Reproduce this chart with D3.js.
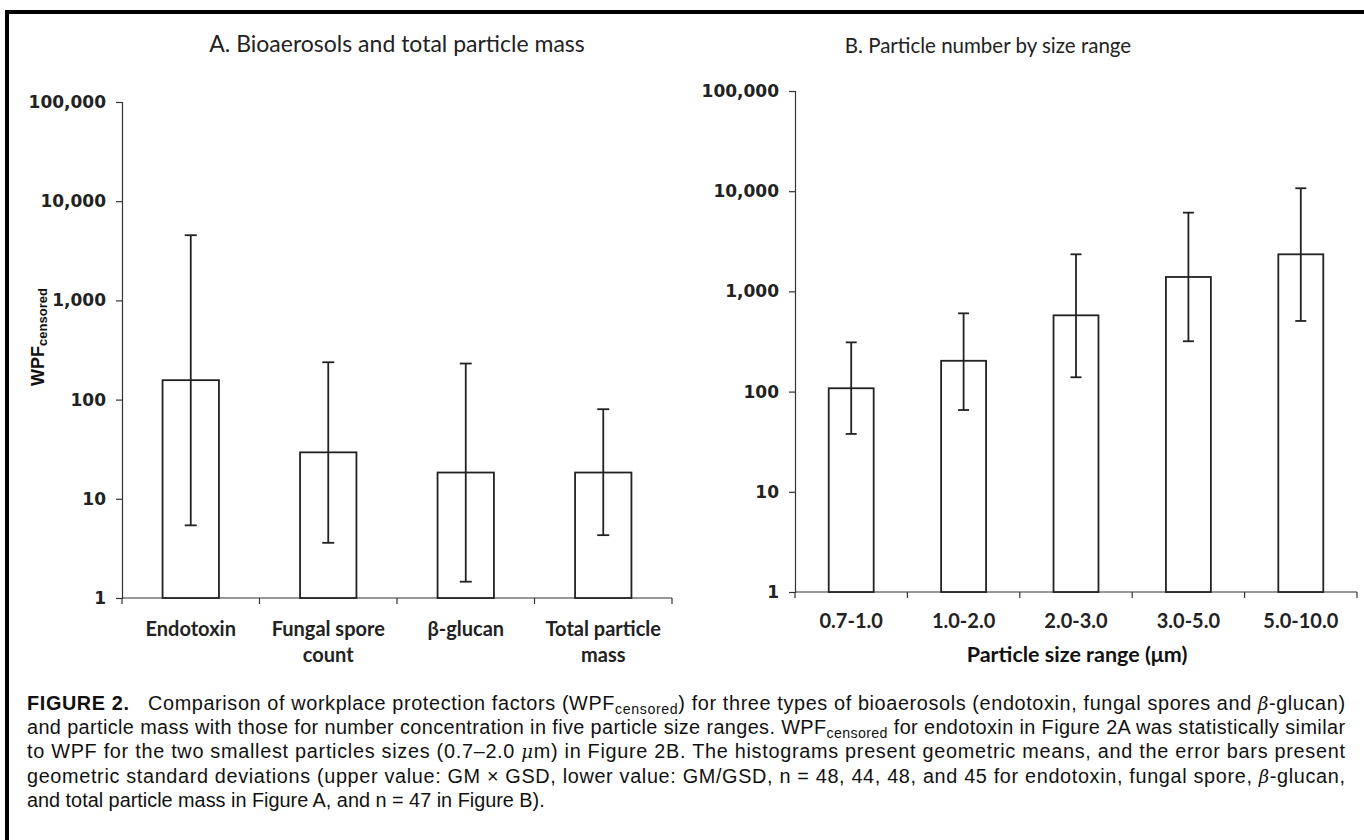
<!DOCTYPE html>
<html><head><meta charset="utf-8">
<script src="https://cdn.jsdelivr.net/npm/d3@7"></script>
<style>
html,body{margin:0;padding:0;background:#fff;}
svg{display:block;}
</style></head>
<body>
<svg id="c" width="1364" height="840"></svg>
<script>
// ---------- data ----------
const catsA = ["Endotoxin", "Fungal spore count", "β-glucan", "Total particle mass"];
const labelsA = [["Endotoxin"], ["Fungal spore", "count"], ["β-glucan"], ["Total particle", "mass"]];
const gmA = [157, 29.4, 18.4, 18.4];
const upA = [4540, 238, 231, 80];
const loA = [5.4, 3.6, 1.46, 4.3];

const catsB = ["0.7-1.0", "1.0-2.0", "2.0-3.0", "3.0-5.0", "5.0-10.0"];
const gmB = [108, 203, 577, 1393, 2345];
const upB = [310, 604, 2345, 6107, 10700];
const loB = [37.8, 65.5, 139, 318, 507];

const yTicks = [1, 10, 100, 1000, 10000, 100000];
const titleA = "A. Bioaerosols and total particle mass";
const titleB = "B. Particle number by size range";
const xTitleB = "Particle size range (μm)";

const svg = d3.select("#c");
const fmt = d3.format(",");

// frame (top and left rule)
svg.append("rect").attr("x", 5).attr("y", 10).attr("width", 1359).attr("height", 4).attr("fill", "#000");
svg.append("rect").attr("x", 5).attr("y", 10).attr("width", 4).attr("height", 830).attr("fill", "#000");

function panel(o) {
  const g = svg.append("g");
  const x = d3.scaleBand().domain(o.cats).range([o.x0, o.x1]).padding(0);
  const y = d3.scaleLog().domain([1, 100000]).range([o.yb, o.yt]);
  const bw = x.bandwidth() * o.barFrac;

  // y axis
  const ya = g.append("g").attr("transform", `translate(${o.x0},0)`)
    .call(d3.axisLeft(y).tickValues(yTicks).tickFormat(fmt).tickSize(6).tickPadding(10));
  ya.select(".domain").attr("stroke", "#333").attr("stroke-width", 1.2);
  ya.selectAll(".tick line").attr("stroke", "#333").attr("stroke-width", 1.2);
  ya.selectAll(".tick text").attr("font-family", "DejaVu Sans").attr("font-weight", "bold")
    .attr("font-size", o.tickFs).attr("fill", "#222");

  // x axis line + boundary ticks
  g.append("line").attr("x1", o.x0).attr("x2", o.x1).attr("y1", o.yb).attr("y2", o.yb)
    .attr("stroke", "#333").attr("stroke-width", 1.2);
  const bounds = o.cats.map(c => x(c)).concat([o.x1]);
  g.selectAll("line.xt").data(bounds).join("line").attr("class", "xt")
    .attr("x1", d => d).attr("x2", d => d).attr("y1", o.yb).attr("y2", o.yb + 6)
    .attr("stroke", "#333").attr("stroke-width", 1.2);

  // bars
  g.selectAll("rect.bar").data(o.cats).join("rect").attr("class", "bar")
    .attr("x", (d) => x(d) + (x.bandwidth() - bw) / 2)
    .attr("width", bw)
    .attr("y", (d, i) => y(o.gm[i]))
    .attr("height", (d, i) => o.yb - y(o.gm[i]))
    .attr("fill", "#fff").attr("stroke", "#222").attr("stroke-width", 1.8);

  // error bars
  const cx = d => x(d) + x.bandwidth() / 2;
  const cap = o.cap;
  const eg = g.selectAll("g.err").data(o.cats).join("g").attr("class", "err");
  eg.append("line").attr("x1", cx).attr("x2", cx)
    .attr("y1", (d, i) => y(o.up[i])).attr("y2", (d, i) => y(o.lo[i]))
    .attr("stroke", "#222").attr("stroke-width", 1.8);
  eg.append("line").attr("x1", d => cx(d) - cap / 2).attr("x2", d => cx(d) + cap / 2)
    .attr("y1", (d, i) => y(o.up[i])).attr("y2", (d, i) => y(o.up[i]))
    .attr("stroke", "#222").attr("stroke-width", 1.8);
  eg.append("line").attr("x1", d => cx(d) - cap / 2).attr("x2", d => cx(d) + cap / 2)
    .attr("y1", (d, i) => y(o.lo[i])).attr("y2", (d, i) => y(o.lo[i]))
    .attr("stroke", "#222").attr("stroke-width", 1.8);

  // category labels
  const lt = g.selectAll("text.cl").data(o.cats).join("text").attr("class", "cl")
    .attr("x", cx).attr("y", o.labY)
    .attr("text-anchor", "middle").attr("font-family", "Lato").attr("font-weight", "bold")
    .attr("font-size", o.labFs).attr("fill", "#222");
  lt.each(function (d, i) {
    const lines = o.labels[i];
    d3.select(this).selectAll("tspan").data(lines).join("tspan")
      .attr("x", cx(d)).attr("dy", (l, j) => j === 0 ? 0 : 26).text(l => l);
  });

  // title
  g.append("text").attr("x", o.titleX).attr("y", o.titleY).attr("text-anchor", "middle")
    .attr("font-family", "Lato").attr("font-size", o.titleFs).attr("fill", "#222").text(o.title);
  return { x, y };
}

panel({
  cats: catsA, labels: labelsA, gm: gmA, up: upA, lo: loA,
  x0: 122, x1: 672, yb: 598, yt: 102, barFrac: 0.41, cap: 12,
  tickFs: 17, labFs: 20, labY: 636, title: titleA, titleX: 397, titleY: 52, titleFs: 23
});
panel({
  cats: catsB, labels: catsB.map(c => [c]), gm: gmB, up: upB, lo: loB,
  x0: 795, x1: 1357, yb: 592, yt: 91, barFrac: 0.4, cap: 11,
  tickFs: 17, labFs: 20, labY: 628, title: titleB, titleX: 988, titleY: 53, titleFs: 20.5
});

// y title panel A
const yt = svg.append("text").attr("transform", "translate(44,337) rotate(-90)")
  .attr("text-anchor", "middle").attr("font-family", "Liberation Sans").attr("font-weight", "bold")
  .attr("font-size", 18).attr("fill", "#111");
yt.append("tspan").text("WPF");
yt.append("tspan").attr("font-size", 13).attr("dy", 3).text("censored");

// x title panel B
svg.append("text").attr("x", 1077).attr("y", 662).attr("text-anchor", "middle")
  .attr("font-family", "Lato").attr("font-weight", "bold").attr("font-size", 21.5).attr("fill", "#111")
  .text(xTitleB);

// ---------- caption ----------
const capX0 = 27, capX1 = 1345, lastEnd = 545;
const capLines = [
  [{b: "FIGURE 2."}, {t: "   Comparison of workplace protection factors (WPF"}, {s: "censored"}, {t: ") for three types of bioaerosols (endotoxin, fungal spores and "}, {i: "β"}, {t: "-glucan)"}],
  [{t: "and particle mass with those for number concentration in five particle size ranges. WPF"}, {s: "censored"}, {t: " for endotoxin in Figure 2A was statistically similar"}],
  [{t: "to WPF for the two smallest particles sizes (0.7–2.0 "}, {i: "μ"}, {t: "m) in Figure 2B. The histograms present geometric means, and the error bars present"}],
  [{t: "geometric standard deviations (upper value: GM × GSD, lower value: GM/GSD, n = 48, 44, 48, and 45 for endotoxin, fungal spore, "}, {i: "β"}, {t: "-glucan,"}],
  [{t: "and total particle mass in Figure A, and n = 47 in Figure B)."}]
];
const capTexts = capLines.map((parts, li) => {
  const t = svg.append("text").attr("x", capX0).attr("y", 710 + li * 24.2)
    .attr("font-family", "Liberation Sans").attr("font-size", 21).attr("fill", "#111")
    .attr("xml:space", "preserve").style("white-space", "pre");
  let shifted = false;
  parts.forEach(p => {
    const ts = t.append("tspan");
    if (p.s) { ts.attr("font-size", 15).attr("dy", 4).text(p.s); shifted = true; return; }
    if (shifted) { ts.attr("dy", -4); shifted = false; }
    if (p.b) ts.attr("font-weight", "bold").text(p.b);
    else if (p.i) ts.attr("font-style", "italic").attr("font-family", "DejaVu Serif").attr("font-size", 19).text(p.i);
    else ts.text(p.t);
  });
  return t;
});
const wLast = capTexts[4].node().getComputedTextLength();
const sx = (lastEnd - capX0) / wLast;
capTexts.forEach((t, li) => {
  t.attr("transform", `translate(${capX0},0) scale(${sx},1) translate(${-capX0},0)`);
  if (li < 4) {
    const w = t.node().getComputedTextLength();
    const target = (capX1 - capX0) / sx;
    t.attr("textLength", target).attr("lengthAdjust", w <= target ? "spacing" : "spacingAndGlyphs");
  }
});
</script>
</body></html>
